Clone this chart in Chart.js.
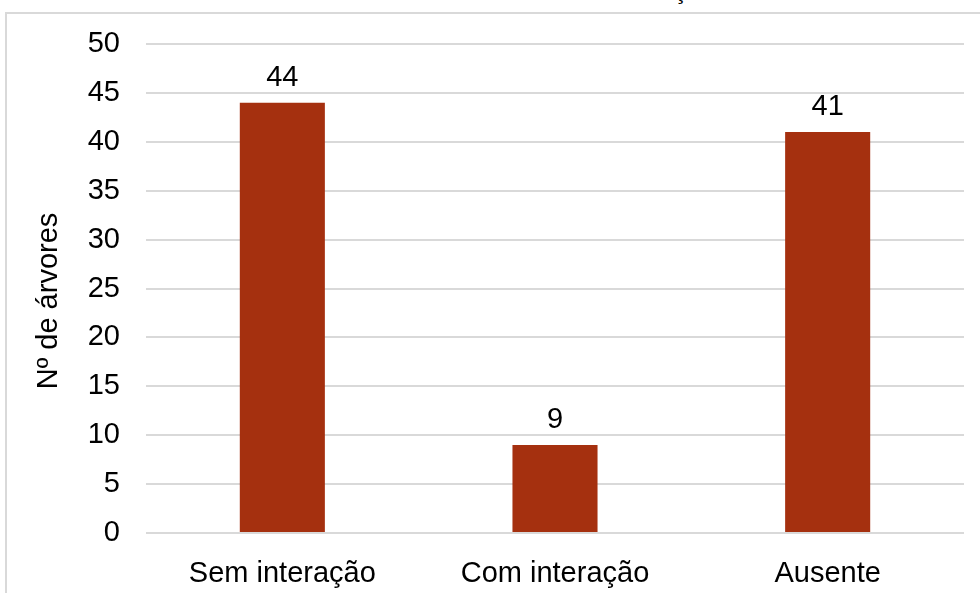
<!DOCTYPE html>
<html>
<head>
<meta charset="utf-8">
<script src="https://cdn.jsdelivr.net/npm/chart.js@4.4.1/dist/chart.umd.min.js"></script>
<style>
  html, body { margin: 0; padding: 0; background: #fff; }
  .wrap { position: relative; width: 980px; height: 593px; overflow: hidden; }
  .frame { position: absolute; left: 5px; top: 12px; width: 1000px; height: 600px;
           border-left: 2px solid #d9d9d9; border-top: 2px solid #d9d9d9; }
  .cut-title { position: absolute; left: 674px; top: -21px; font: 24px "Liberation Sans", Arial, sans-serif;
               line-height: 24px; color: #000; }
  canvas { position: absolute; left: 0; top: 0; }
</style>
</head>
<body>
<div class="wrap">
  <div class="frame"></div>
  <div class="cut-title">ç</div>
  <canvas id="barChart" width="980" height="593"></canvas>
</div>
<script>
// ---- data ----
const categories = ['Sem interação', 'Com interação', 'Ausente'];
const treeCounts = [44, 9, 41];
const yTicks     = [0, 5, 10, 15, 20, 25, 30, 35, 40, 45, 50];
const yTitle     = 'Nº de árvores';

const FONT = '"Liberation Sans", Arial, sans-serif';
const FSIZE = 29;
Chart.defaults.font.family = FONT;
Chart.defaults.color = '#000';

// value above each bar + the y axis title
const valueLabels = {
  id: 'valueLabels',
  afterDatasetsDraw(chart) {
    const ctx = chart.ctx;
    const meta = chart.getDatasetMeta(0);
    ctx.save();
    ctx.font = FSIZE + 'px ' + FONT;
    ctx.fillStyle = '#000';
    ctx.textAlign = 'center';
    ctx.textBaseline = 'alphabetic';
    meta.data.forEach((bar, i) => {
      ctx.fillText(String(treeCounts[i]), bar.x, bar.y - 17);
    });
    // axis title, rotated
    ctx.translate(49, 301);
    ctx.rotate(-Math.PI / 2);
    ctx.textBaseline = 'middle';
    ctx.fillText(yTitle, 0, 0);
    ctx.restore();
  }
};

new Chart(document.getElementById('barChart'), {
  type: 'bar',
  data: {
    labels: categories,
    datasets: [{
      data: treeCounts,
      backgroundColor: '#a5300f',
      borderWidth: 0,
      barPercentage: 0.624,
      categoryPercentage: 0.5,
    }]
  },
  options: {
    responsive: false,
    animation: false,
    layout: { padding: { left: 0, top: 44, right: 16, bottom: 0 } },
    plugins: { legend: { display: false }, tooltip: { enabled: false } },
    scales: {
      x: {
        grid: { display: false },
        border: { display: false },
        ticks: { font: { size: FSIZE }, color: '#000', padding: 16 },
        afterFit: s => { s.height = 60; }
      },
      y: {
        min: 0, max: 50,
        afterBuildTicks: s => { s.ticks = yTicks.map(v => ({ value: v })); },
        grid: { color: '#d9d9d9', lineWidth: 2, drawTicks: false },
        border: { display: false },
        ticks: { font: { size: FSIZE }, color: '#000', padding: 26 },
        afterFit: s => { s.width = 146; }
      }
    }
  },
  plugins: [valueLabels]
});
</script>
</body>
</html>
